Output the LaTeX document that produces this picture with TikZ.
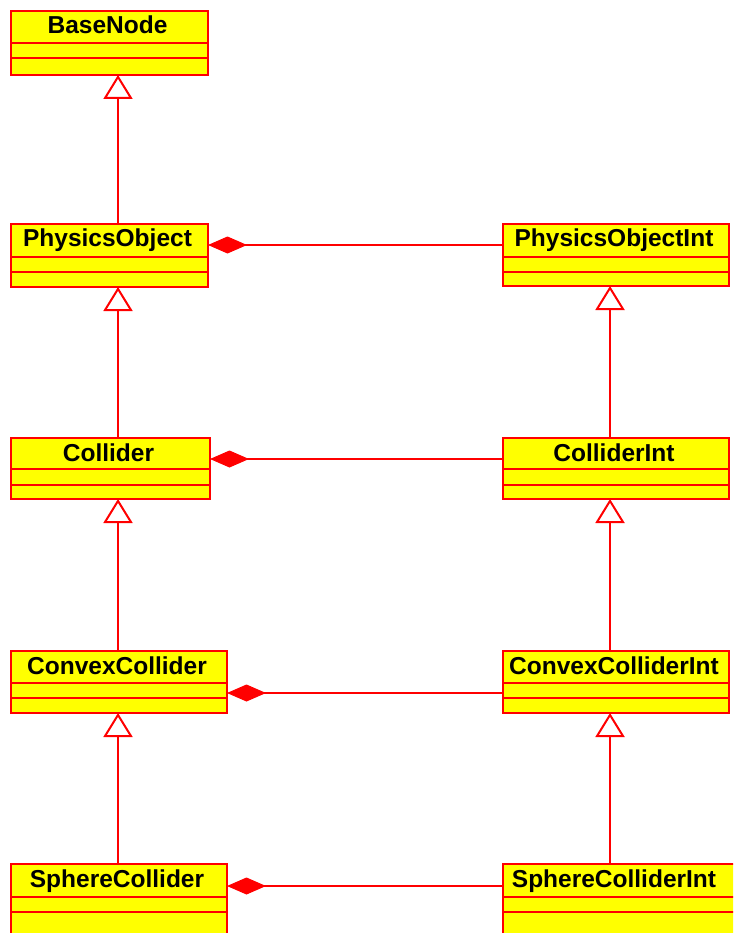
\documentclass[tikz,border=0pt]{standalone}
\usepackage{fontspec}
\setmainfont{Liberation Sans}
\usetikzlibrary{arrows.meta,calc}
\definecolor{umlred}{RGB}{255,0,0}
\definecolor{umlyel}{RGB}{255,255,0}
\tikzset{
  cls/.style={draw=umlred, fill=umlyel, line width=2pt, inner sep=0pt, outer sep=0pt, rectangle},
  divline/.style={draw=umlred, line width=2pt},
  lbl/.style={inner sep=0pt, font=\fontsize{24.5}{26}\selectfont\bfseries, text=black},
  gen/.style={draw=umlred, line width=2pt, -{Triangle[open, length=24pt, width=29pt, fill=white, line width=2pt]}},
  comp/.style={draw=umlred, line width=2pt, -{Diamond[length=39pt, width=17pt, fill=umlred, line width=1pt]}},
}
\newcommand\umlcls[9]{%
  \node[cls, anchor=north west, minimum width={(#4-#2)*1pt}, minimum height={(#5-#3)*1pt}] (#1) at (#2,#3) {};
  \draw[divline] ([yshift=-#6 pt]#1.north west) -- ([yshift=-#6 pt]#1.north east);
  \draw[divline] ([yshift=-#7 pt]#1.north west) -- ([yshift=-#7 pt]#1.north east);
  \node[lbl, anchor=base] (#1-t) at ([yshift=-23pt, xshift=#9 pt]#1.north) {#8};
}
\begin{document}
\begin{tikzpicture}[x=1pt, y=-1pt]
  \fill[white] (0,0) rectangle (733,933);
  \useasboundingbox (0,0) rectangle (733,933);
  \clip (0,0) rectangle (733,933);
  \coordinate (lx) at (118,0);
  \coordinate (rx) at (610,0);
  \umlcls{base}{11}{11}{208}{75}{32}{47}{BaseNode}{-2}
  \umlcls{po}{11}{224}{208}{287}{33}{48}{PhysicsObject}{-2}
  \umlcls{poi}{503}{224}{729}{286}{33}{48}{PhysicsObjectInt}{-2}
  \umlcls{col}{11}{438}{210}{499}{31}{47}{Collider}{-2}
  \umlcls{coli}{503}{438}{729}{499}{31}{47}{ColliderInt}{-2}
  \umlcls{cc}{11}{651}{227}{713}{32}{47}{ConvexCollider}{-2}
  \umlcls{cci}{503}{651}{729}{713}{32}{47}{ConvexColliderInt}{-2}
  \umlcls{sc}{11}{864}{227}{945}{33}{48}{SphereCollider}{-2}
  \umlcls{sci}{503}{864}{745}{945}{33}{48}{SphereColliderInt}{-10}
  % generalizations
  \draw[gen] (lx |- po.north) -- (lx |- base.south);
  \draw[gen] (lx |- col.north) -- (lx |- po.south);
  \draw[gen] (lx |- cc.north) -- (lx |- col.south);
  \draw[gen] (lx |- sc.north) -- (lx |- cc.south);
  \draw[gen] (rx |- coli.north) -- (rx |- poi.south);
  \draw[gen] (rx |- cci.north) -- (rx |- coli.south);
  \draw[gen] (rx |- sci.north) -- (rx |- cci.south);
  % compositions
  \draw[comp] ([yshift=-21pt]poi.north west) -- ([yshift=-21pt]po.north east);
  \draw[comp] ([yshift=-21pt]coli.north west) -- ([yshift=-21pt]col.north east);
  \draw[comp] ([yshift=-42pt]cci.north west) -- ([yshift=-42pt]cc.north east);
  \draw[comp] ([yshift=-22pt]sci.north west) -- ([yshift=-22pt]sc.north east);
\end{tikzpicture}
\end{document}
